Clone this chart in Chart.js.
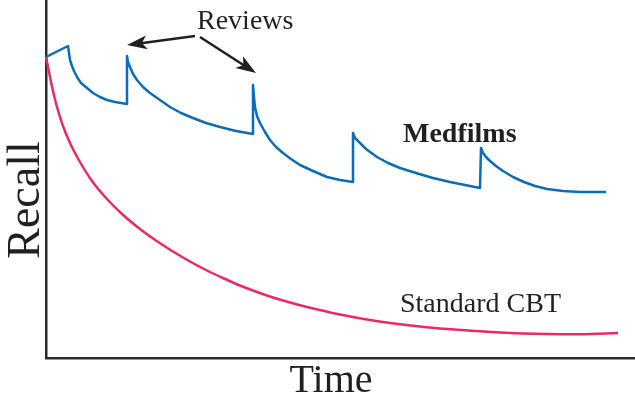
<!DOCTYPE html>
<html>
<head>
<meta charset="utf-8">
<script src="https://cdn.jsdelivr.net/npm/chart.js@4.4.0/dist/chart.umd.min.js"></script>
<style>
  html, body { margin: 0; padding: 0; background: #fff; }
  #wrap { width: 635px; height: 400px; }
</style>
</head>
<body>
<div id="wrap"><canvas id="recallChart"></canvas></div>
<script>
// time / recall values (arbitrary units)
const medfilmsTime = [0,
    22, 23, 24, 26, 28, 31, 35, 41, 47, 54, 61, 69, 81,
    81, 82, 84, 87, 91, 97, 104, 114, 124, 135, 147, 160, 174, 190, 207,
    207, 208, 209, 211, 214, 219, 224, 230, 237, 245, 254, 267, 281, 294, 307,
    307, 309, 314, 320, 331, 342, 354, 370, 387, 404, 419, 434,
    435, 437, 440, 444, 450, 457, 467, 478, 489, 501, 517, 534, 560];
const medfilmsRecall = [301,
    312, 305, 298, 292, 287, 281, 275, 270, 265, 261, 258, 256, 254,
    302, 296, 291, 284, 278, 271, 265, 258, 251, 245, 240, 235, 231, 227, 224,
    273, 261, 251, 242, 235, 226, 218, 211, 205, 199, 193, 187, 181, 178, 176,
    225, 220, 215, 209, 201, 195, 190, 185, 180, 176, 173, 170,
    210, 205, 201, 197, 192, 187, 181, 176, 172, 169, 167, 166, 166];

const cbtTime = [0, 3, 7, 11, 17, 24, 34, 46, 61, 76, 94, 110, 127, 144, 161, 178,
    194, 211, 227, 244, 261, 294, 327, 374, 401, 454, 501, 534, 572];
const cbtRecall = [301, 286, 267, 251, 232, 215, 196, 177, 159, 144, 129, 117.5, 106.5, 96.5, 87.5, 79.5,
    72.5, 66, 60.5, 55.5, 51, 43.5, 37.5, 31.5, 29, 25.5, 24, 23.8, 25];

const toPoints = (xs, ys) => xs.map((x, i) => ({ x, y: ys[i] }));

const serif = '"Liberation Serif", "DejaVu Serif", serif';

const labelsPlugin = {
    id: 'labels',
    afterDraw(chart) {
        const ctx = chart.ctx;
        ctx.save();
        ctx.fillStyle = '#231f20';
        ctx.textBaseline = 'alphabetic';

        ctx.font = '40px ' + serif;
        ctx.textAlign = 'center';
        ctx.fillText('Time', 331, 392);

        ctx.save();
        ctx.translate(39, 200);
        ctx.rotate(-Math.PI / 2);
        ctx.font = '46px ' + serif;
        ctx.fillText('Recall', 0, 0);
        ctx.restore();

        ctx.textAlign = 'left';
        ctx.font = 'bold 28px ' + serif;
        ctx.fillText('Medfilms', 403, 142);
        ctx.font = '28px ' + serif;
        ctx.fillText('Standard CBT', 400, 312);
        ctx.fillText('Reviews', 197, 29);

        drawArrow(ctx, 195, 36, 127, 45);
        drawArrow(ctx, 200, 37, 256, 73);
        ctx.restore();
    }
};

function drawArrow(ctx, x0, y0, x1, y1) {
    const a = Math.atan2(y1 - y0, x1 - x0);
    const len = 20, half = 7;
    const bx = x1 - len * Math.cos(a), by = y1 - len * Math.sin(a);
    ctx.strokeStyle = '#231f20';
    ctx.lineWidth = 2.5;
    ctx.beginPath();
    ctx.moveTo(x0, y0);
    ctx.lineTo(bx + 6 * Math.cos(a), by + 6 * Math.sin(a));
    ctx.stroke();
    ctx.beginPath();
    ctx.moveTo(x1, y1);
    ctx.lineTo(bx + half * Math.sin(a), by - half * Math.cos(a));
    ctx.lineTo(bx + 5 * Math.cos(a), by + 5 * Math.sin(a));
    ctx.lineTo(bx - half * Math.sin(a), by + half * Math.cos(a));
    ctx.closePath();
    ctx.fillStyle = '#231f20';
    ctx.fill();
}

new Chart(document.getElementById('recallChart'), {
    type: 'scatter',
    data: {
        datasets: [
            { label: 'Medfilms', data: toPoints(medfilmsTime, medfilmsRecall), showLine: true,
              borderColor: '#0b6db7', borderWidth: 2.5, pointRadius: 0, tension: 0,
              borderJoinStyle: 'round', clip: false },
            { label: 'Standard CBT', data: toPoints(cbtTime, cbtRecall), showLine: true,
              borderColor: '#ea2a63', borderWidth: 2.5, pointRadius: 0,
              cubicInterpolationMode: 'monotone', clip: false }
        ]
    },
    options: {
        responsive: true, maintainAspectRatio: false, animation: false, events: [],
        layout: { padding: { left: 46, right: 0, top: 0, bottom: 42 } },
        plugins: { legend: { display: false }, tooltip: { enabled: false } },
        scales: {
            x: { type: 'linear', min: 0, max: 589,
                 ticks: { display: false }, grid: { display: false, drawTicks: false },
                 border: { display: true, color: '#2b2b2b', width: 2.5 } },
            y: { type: 'linear', min: 0, max: 358,
                 ticks: { display: false }, grid: { display: false, drawTicks: false },
                 border: { display: true, color: '#2b2b2b', width: 2.5 } }
        }
    },
    plugins: [labelsPlugin]
});
</script>
</body>
</html>
